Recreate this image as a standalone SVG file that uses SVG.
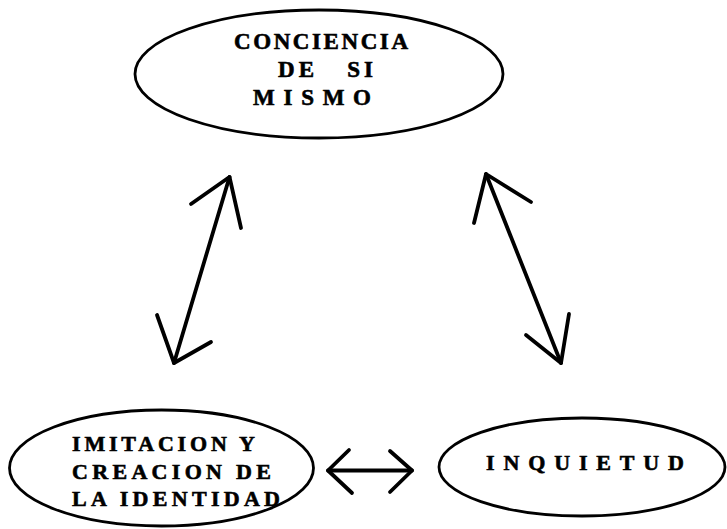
<svg xmlns="http://www.w3.org/2000/svg" width="727" height="529" viewBox="0 0 727 529">
<style>
.node ellipse{fill:none;stroke:#000;stroke-width:2.8}
.lbl{font-family:"Liberation Serif","Times New Roman",serif;font-weight:bold;font-size:23px;fill:#000;stroke:#000;stroke-width:0.6}
.sm{font-size:22px}
.arr{fill:none;stroke:#000;stroke-width:3.8;stroke-linecap:round;stroke-linejoin:round}
</style>
<rect width="727" height="529" fill="#fff"/>
<g id="node-conciencia" class="node">
<ellipse cx="319" cy="74" rx="184" ry="64"/>
<text class="lbl" x="234" y="49" textLength="174" lengthAdjust="spacing">CONCIENCIA</text>
<text class="lbl" x="278" y="77" textLength="95" lengthAdjust="spacing" xml:space="preserve">DE   SI</text>
<text class="lbl" x="253" y="105" textLength="118" lengthAdjust="spacing">MISMO</text>
</g>
<g id="node-imitacion" class="node">
<ellipse cx="161.5" cy="468" rx="152" ry="58"/>
<text class="lbl sm" x="72" y="451" textLength="183" lengthAdjust="spacing">IMITACION Y</text>
<text class="lbl sm" x="72" y="479" textLength="199" lengthAdjust="spacing">CREACION DE</text>
<text class="lbl sm" x="72" y="506" textLength="208" lengthAdjust="spacing">LA IDENTIDAD</text>
</g>
<g id="node-inquietud" class="node">
<ellipse cx="582" cy="467" rx="143" ry="49"/>
<text class="lbl sm" x="486" y="470" textLength="198" lengthAdjust="spacing">INQUIETUD</text>
</g>
<g id="connectors" class="arr">
<path d="M229.5 177 L174 363"/>
<path d="M191 204 L229.5 177 L241 228"/>
<path d="M157 315 L174 363 L211 342"/>
<path d="M486 174 L561 363"/>
<path d="M531 202 L486 174 L474 223"/>
<path d="M569 314 L561 363 L526 335"/>
<path d="M328 470.5 L412 470.5"/>
<path d="M349 450 L328 470.5 L352 493"/>
<path d="M390 451 L412 470.5 L390 492"/>
</g>
</svg>
